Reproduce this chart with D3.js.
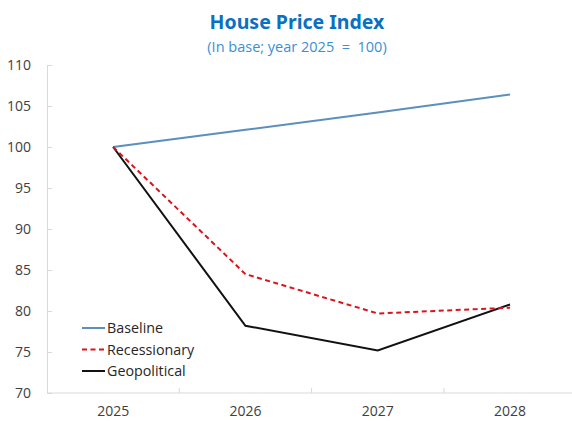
<!DOCTYPE html>
<html>
<head>
<meta charset="utf-8">
<script src="https://cdn.jsdelivr.net/npm/d3@7"></script>
<style>
  html, body { margin: 0; padding: 0; background: #fff; }
  svg { display: block; font-family: "Open Sans", "Noto Sans", sans-serif; }
</style>
</head>
<body>
<svg id="chart" width="572" height="421"></svg>
<script>
// Years on the horizontal axis
const years = ["2025", "2026", "2027", "2028"];

// Index values by scenario (2025 = 100)
const baseline     = [100, 102.1, 104.2, 106.4];
const recessionary = [100, 84.5, 79.7, 80.4];
const geopolitical = [100, 78.2, 75.2, 80.8];

// Vertical axis ticks
const yTicks = [70, 75, 80, 85, 90, 95, 100, 105, 110];

const seriesNames = ["Baseline", "Recessionary", "Geopolitical"];

const svg = d3.select("#chart");
const width = 572, height = 421;
const margin = { left: 47, right: 0, top: 65, bottom: 28 };

const x = d3.scaleBand()
  .domain(years)
  .range([margin.left, margin.left + 132.3 * 4]);

const y = d3.scaleLinear()
  .domain([70, 110])
  .range([height - margin.bottom, margin.top]);

// Title block
svg.append("text")
  .attr("x", 297).attr("y", 29)
  .attr("text-anchor", "middle")
  .attr("font-size", 19.5).attr("font-weight", 700)
  .attr("fill", "#0a70c2")
  .style("font-family", "'Noto Sans', 'Open Sans', sans-serif")
  .text("House Price Index");

svg.append("text")
  .attr("x", 297).attr("y", 52)
  .attr("text-anchor", "middle")
  .attr("font-size", 14.5)
  .attr("fill", "#3a8fd6")
  .attr("xml:space", "preserve")
  .style("white-space", "pre")
  .text("(In base; year 2025  =  100)");

// Y axis
const yAxis = svg.append("g")
  .attr("transform", `translate(${margin.left},0)`)
  .call(d3.axisLeft(y).tickValues(yTicks).tickSizeInner(-5).tickSizeOuter(0).tickPadding(16));
yAxis.select(".domain").attr("stroke", "#d9d9d9");
yAxis.selectAll(".tick line").attr("stroke", "#d9d9d9");
yAxis.selectAll(".tick text")
  .attr("font-size", 14).attr("fill", "#404040")
  .style("font-family", "'Open Sans', sans-serif");

// X axis: ticks sit between categories
const xAxisG = svg.append("g")
  .attr("transform", `translate(0,${y(70)})`);
xAxisG.append("line")
  .attr("x1", margin.left).attr("x2", width)
  .attr("stroke", "#d9d9d9");
xAxisG.selectAll(".sep")
  .data(years.slice(1))
  .join("line")
  .attr("class", "sep")
  .attr("x1", d => x(d)).attr("x2", d => x(d))
  .attr("y1", 0).attr("y2", -5)
  .attr("stroke", "#d9d9d9");
xAxisG.selectAll(".lab")
  .data(years)
  .join("text")
  .attr("class", "lab")
  .attr("x", d => x(d) + x.bandwidth() / 2)
  .attr("y", 23)
  .attr("text-anchor", "middle")
  .attr("font-size", 14).attr("fill", "#404040")
  .text(d => d);

// Lines
const cx = d => x(d) + x.bandwidth() / 2;
const line = d3.line()
  .x((d, i) => cx(years[i]))
  .y(d => y(d));

const styles = [
  { data: baseline, color: "#5b8fbd", dash: null, w: 2 },
  { data: recessionary, color: "#d9141b", dash: "5,3.5", w: 2 },
  { data: geopolitical, color: "#111111", dash: null, w: 2 }
];

// draw order: geopolitical under recessionary
[styles[0], styles[2], styles[1]].forEach(s => {
  svg.append("path")
    .datum(s.data)
    .attr("d", line)
    .attr("fill", "none")
    .attr("stroke", s.color)
    .attr("stroke-width", s.w)
    .attr("stroke-dasharray", s.dash)
    .attr("stroke-linejoin", "miter");
});

// Legend
const legend = svg.append("g").attr("transform", "translate(82,328)");
seriesNames.forEach((name, i) => {
  const s = styles[i];
  const g = legend.append("g").attr("transform", `translate(0,${i * 21.5})`);
  g.append("line")
    .attr("x1", 0).attr("x2", 23)
    .attr("stroke", s.color).attr("stroke-width", s.w)
    .attr("stroke-dasharray", s.dash);
  g.append("text")
    .attr("x", 25).attr("y", 5)
    .attr("font-size", 14.3).attr("fill", "#262626")
    .text(name);
});
</script>
</body>
</html>
